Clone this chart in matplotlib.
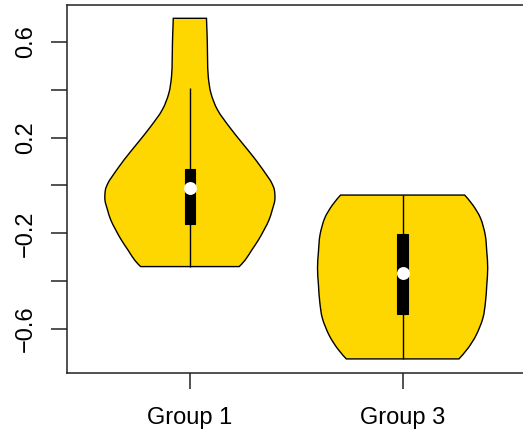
import numpy as np
import matplotlib
matplotlib.use("Agg")
import matplotlib.pyplot as plt
from matplotlib.path import Path
from matplotlib.patches import PathPatch, Rectangle

# ---- data ----
labels = ["Group 1", "Group 3"]
positions = [1, 2]

# density profile (relative, max = 1) at y levels, per group
g1_y = [-0.339, -0.312, -0.270, -0.228, -0.186, -0.144, -0.102, -0.061,
        -0.019, 0.010, 0.037, 0.107, 0.176, 0.246, 0.316, 0.385, 0.455,
        0.525, 0.594, 0.650, 0.699]
g1_d = [0.579, 0.649, 0.727, 0.805, 0.871, 0.930, 0.968, 0.998,
        0.993, 0.962, 0.915, 0.774, 0.618, 0.462, 0.325, 0.248, 0.216,
        0.208, 0.205, 0.200, 0.195]
g3_y = [-0.725, -0.681, -0.625, -0.555, -0.486, -0.416, -0.345, -0.277,
        -0.207, -0.137, -0.082, -0.040]
g3_d = [0.662, 0.767, 0.865, 0.943, 0.974, 0.989, 1.000, 0.989,
        0.971, 0.916, 0.826, 0.729]

q1 = [-0.161, -0.539]
median = [-0.012, -0.365]
q3 = [0.068, -0.201]
whisk_lo = [-0.339, -0.725]
whisk_hi = [0.409, -0.040]

yticks = [-0.6, -0.4, -0.2, 0.0, 0.2, 0.4, 0.6]
ytick_labels = ["\u22120.6", "", "\u22120.2", "", "0.2", "", "0.6"]

# ---- style ----
FILL = "#FFD700"
WEX = 0.4
BOXW = 0.05
FONT = ["Liberation Sans", "DejaVu Sans"]


def smooth_segments(pts):
    """Catmull-Rom spline through pts, as cubic Bezier control points."""
    pts = np.asarray(pts, float)
    n = len(pts)
    verts = []
    for i in range(n - 1):
        p0 = pts[i - 1] if i > 0 else pts[i]
        p1 = pts[i]
        p2 = pts[i + 1]
        p3 = pts[i + 2] if i + 2 < n else pts[i + 1]
        c1 = p1 + (p2 - p0) / 6.0
        c2 = p2 - (p3 - p1) / 6.0
        verts += [c1, c2, p2]
    return verts


def violin_path(at, ys, ds):
    ys = np.asarray(ys, float)
    hw = WEX * np.asarray(ds, float)
    right = np.column_stack([at + hw, ys])
    left = np.column_stack([at - hw, ys])[::-1]
    verts = [right[0]]
    codes = [Path.MOVETO]
    seg = smooth_segments(right)
    verts += seg
    codes += [Path.CURVE4] * len(seg)
    verts.append(left[0])
    codes.append(Path.LINETO)
    seg = smooth_segments(left)
    verts += seg
    codes += [Path.CURVE4] * len(seg)
    verts.append(right[0])
    codes.append(Path.CLOSEPOLY)
    return Path(np.array(verts), codes)


fig = plt.figure(figsize=(5.23, 4.42), dpi=100)
W, H = 523.0, 442.0
ax = fig.add_axes([66.5 / W, 69.0 / H, 459.5 / W, 368.0 / H])
ax.set_xlim(0.42, 2.58)
ax.set_ylim(-0.7839, 0.7546)

profiles = [(g1_y, g1_d), (g3_y, g3_d)]
for i, at in enumerate(positions):
    ys, ds = profiles[i]
    patch = PathPatch(violin_path(at, ys, ds), facecolor=FILL,
                      edgecolor="black", lw=1.0, zorder=2)
    ax.add_patch(patch)
    ax.plot([at, at], [whisk_lo[i], whisk_hi[i]], color="black", lw=1.0,
            zorder=3, solid_capstyle="butt")
    ax.add_patch(Rectangle((at - BOXW / 2, q1[i]), BOXW, q3[i] - q1[i],
                           facecolor="black", edgecolor="black", lw=0.8,
                           zorder=4))
    ax.plot([at], [median[i]], marker="o", color="white", markersize=9.3,
            markeredgewidth=0, linestyle="none", zorder=5)

for s in ["left", "bottom", "top", "right"]:
    ax.spines[s].set_linewidth(1.1)
    ax.spines[s].set_color("#222222")

ax.set_xticks(positions)
ax.set_xticklabels(labels, fontsize=17, family=FONT)
ax.set_yticks(yticks)
ax.set_yticklabels(ytick_labels, fontsize=17, family=FONT,
                   rotation=90, va="center")
ax.tick_params(axis="x", length=11.5, width=1.1, pad=13, color="#222222")
ax.tick_params(axis="y", length=11.5, width=1.1, pad=10, color="#222222")

fig.savefig("out.png", dpi=100)
